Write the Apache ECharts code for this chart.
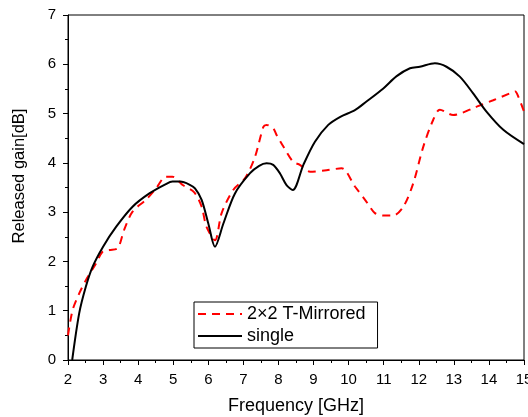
<!DOCTYPE html>
<html>
<head>
<meta charset="utf-8">
<script src="https://cdn.jsdelivr.net/npm/echarts@6/dist/echarts.min.js"></script>
<style>
  html, body { margin: 0; padding: 0; background: #fff; }
  #chart { width: 528px; height: 417px; }
</style>
</head>
<body>
<div id="chart"></div>
<script>
// frequency (GHz) / released gain (dB)
const singleFreq = [2.12, 2.32, 2.51, 2.7, 3.0, 3.37, 3.84, 4.32, 4.79, 4.98, 5.2, 5.46, 5.62, 5.81, 6.0, 6.19, 6.43, 6.76, 7.19, 7.45, 7.66, 7.85, 8.04, 8.23, 8.41, 8.71, 9.04, 9.42, 9.75, 10.18, 10.5, 10.99, 11.37, 11.75, 12.03, 12.46, 12.79, 13.17, 13.55, 13.93, 14.41, 15]
const singleGain = [0, 0.95, 1.49, 1.89, 2.3, 2.7, 3.11, 3.38, 3.57, 3.62, 3.62, 3.56, 3.48, 3.25, 2.77, 2.3, 2.77, 3.38, 3.79, 3.94, 3.99, 3.96, 3.79, 3.55, 3.45, 3.96, 4.43, 4.77, 4.93, 5.07, 5.24, 5.51, 5.76, 5.92, 5.95, 6.02, 5.95, 5.75, 5.41, 5.04, 4.67, 4.38]

const mirroredFreq = [2.0, 2.13, 2.32, 2.51, 2.8, 2.99, 3.18, 3.42, 3.6, 3.84, 4.22, 4.51, 4.79, 4.98, 5.27, 5.6, 5.81, 5.95, 6.19, 6.38, 6.71, 7.05, 7.33, 7.57, 7.66, 7.85, 7.95, 8.14, 8.42, 8.61, 8.9, 9.37, 9.8, 10.18, 10.51, 10.75, 11.0, 11.27, 11.56, 11.84, 12.13, 12.41, 12.6, 12.98, 13.65, 14.12, 14.6, 14.75, 14.84, 15]
const mirroredGain = [0.5, 1.01, 1.35, 1.62, 1.96, 2.2, 2.23, 2.27, 2.64, 3.01, 3.25, 3.48, 3.72, 3.72, 3.55, 3.4, 3.11, 2.7, 2.43, 2.98, 3.45, 3.69, 4.12, 4.73, 4.77, 4.7, 4.56, 4.33, 4.02, 3.96, 3.82, 3.85, 3.89, 3.52, 3.21, 2.98, 2.93, 2.93, 3.11, 3.58, 4.33, 4.87, 5.08, 4.97, 5.14, 5.27, 5.41, 5.45, 5.34, 5.04]

const zip = (xs, ys) => xs.map((x, i) => [x, ys[i]])

const font = 'Liberation Sans, Arial, sans-serif'
const chart = echarts.init(document.getElementById('chart'))

const option = {
  animation: false,
  backgroundColor: '#fff',
  grid: {
    left: 68,
    right: 4,
    top: 15,
    bottom: 57,
    outerBoundsMode: 'none',
    containLabel: false,
    show: true,
    borderColor: '#000',
    borderWidth: 1
  },
  legend: {
    orient: 'vertical',
    left: 194,
    top: 302,
    padding: [3, 12, 3, 3],
    itemGap: 4,
    itemWidth: 44,
    itemHeight: 14,
    borderColor: '#000',
    borderWidth: 1,
    borderRadius: 0,
    backgroundColor: '#fff',
    itemStyle: { opacity: 0 },
    textStyle: { fontFamily: font, fontSize: 18, lineHeight: 18, color: '#000' },
    data: ['2×2 T-Mirrored', 'single']
  },
  xAxis: {
    type: 'value',
    min: 2,
    max: 15,
    interval: 1,
    name: 'Frequency [GHz]',
    nameLocation: 'middle',
    nameGap: 37,
    nameTextStyle: { fontFamily: font, fontSize: 18, color: '#000' },
    axisLine: { lineStyle: { color: '#000', width: 1 } },
    axisTick: { inside: false, length: 5, lineStyle: { color: '#000' } },
    minorTick: { show: true, splitNumber: 2, length: 3, lineStyle: { color: '#000' } },
    axisLabel: { fontFamily: font, fontSize: 15, color: '#000', margin: 12 },
    splitLine: { show: false }
  },
  yAxis: {
    type: 'value',
    min: 0,
    max: 7,
    interval: 1,
    name: 'Released gain[dB]',
    nameLocation: 'middle',
    nameGap: 40,
    nameTextStyle: { fontFamily: font, fontSize: 16.5, color: '#000', padding: [0, 0, 0, 23] },
    axisLine: { show: true, lineStyle: { color: '#000', width: 1 } },
    axisTick: { show: true, inside: false, length: 5, lineStyle: { color: '#000' } },
    minorTick: { show: true, splitNumber: 2, length: 3, lineStyle: { color: '#000' } },
    axisLabel: { fontFamily: font, fontSize: 15, color: '#000', margin: 12 },
    splitLine: { show: false }
  },
  series: [
    {
      name: '2×2 T-Mirrored',
      type: 'line',
      data: zip(mirroredFreq, mirroredGain),
      symbol: 'none',
      smooth: 0.3,
      color: '#ff0000',
      lineStyle: { color: '#ff0000', width: 2, type: [8, 6] },
      z: 2
    },
    {
      name: 'single',
      type: 'line',
      data: zip(singleFreq, singleGain),
      symbol: 'none',
      smooth: 0.3,
      color: '#000',
      lineStyle: { color: '#000', width: 2 },
      z: 3
    }
  ]
}

chart.setOption(option)
</script>
</body>
</html>
